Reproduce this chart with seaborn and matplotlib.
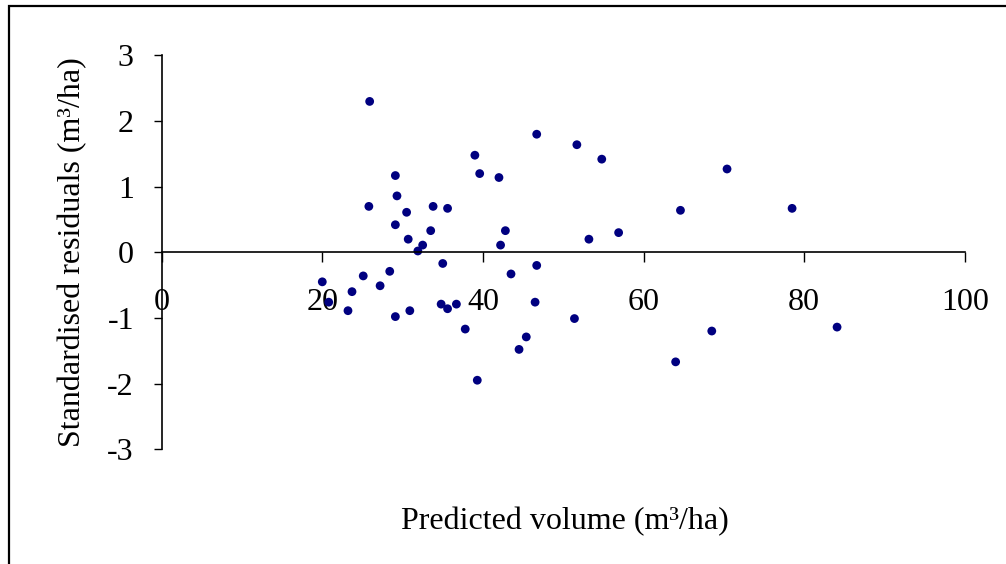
import matplotlib
matplotlib.use("Agg")
import matplotlib.pyplot as plt
import seaborn as sns
import pandas as pd
from matplotlib.patches import Rectangle

predicted_volume = [20.0, 20.8, 23.2, 23.7, 25.1, 25.9, 25.8, 27.2, 28.4, 29.1,
                    29.1, 29.3, 29.1, 30.5, 30.7, 30.9, 31.9, 32.5, 33.5, 33.8,
                    35.0, 34.8, 35.6, 35.6, 36.7, 37.8, 39.0, 39.3, 39.6, 42.0,
                    42.2, 42.8, 43.5, 44.5, 45.4, 46.5, 46.7, 46.7, 51.4, 51.7,
                    53.2, 54.8, 56.9, 64.0, 64.6, 68.5, 70.4, 78.5, 84.1]
std_residuals = [-0.45, -0.76, -0.89, -0.60, -0.36, 2.30, 0.70, -0.51, -0.29, 1.17,
                 0.42, 0.86, -0.98, 0.61, 0.20, -0.89, 0.02, 0.11, 0.33, 0.70,
                 -0.17, -0.79, -0.86, 0.67, -0.79, -1.17, 1.48, -1.95, 1.20, 1.14,
                 0.11, 0.33, -0.33, -1.48, -1.29, -0.76, -0.20, 1.80, -1.01, 1.64,
                 0.20, 1.42, 0.30, -1.67, 0.64, -1.20, 1.27, 0.67, -1.14]
x_ticks = [0, 20, 40, 60, 80, 100]
y_ticks = [-3, -2, -1, 0, 1, 2, 3]

df = pd.DataFrame({"x": predicted_volume, "y": std_residuals})

sns.set_style("white")
plt.rcParams["font.family"] = ["Liberation Serif", "DejaVu Serif"]
plt.rcParams["text.color"] = "black"
plt.rcParams["axes.labelcolor"] = "black"
plt.rcParams["xtick.color"] = "black"
plt.rcParams["ytick.color"] = "black"

fig = plt.figure(figsize=(10.06, 5.64), dpi=100)
ax = fig.add_axes([0.1607, 0.2037, 0.7983, 0.6979])

sns.scatterplot(data=df, x="x", y="y", ax=ax, color="#000080", s=40,
                edgecolor="none", linewidth=0, legend=False)

ax.set_xlim(0, 100)
ax.set_ylim(-3, 3)
ax.set_xticks(x_ticks)
ax.set_yticks(y_ticks)
ax.set_xticklabels([str(t) for t in x_ticks])
ax.set_yticklabels([str(t) for t in y_ticks])

ax.spines["left"].set_position(("data", 0))
ax.spines["bottom"].set_position(("data", 0))
ax.spines["right"].set_visible(False)
ax.spines["top"].set_visible(False)
for sp in ("left", "bottom"):
    ax.spines[sp].set_color("black")
    ax.spines[sp].set_linewidth(1.2)

ax.tick_params(axis="x", direction="out", length=7, width=1, colors="black",
               labelsize=23, pad=19, bottom=True)
ax.tick_params(axis="y", direction="out", length=6, width=1, colors="black",
               labelsize=23, pad=14, left=True)

ax.set_xlabel("Predicted volume (m³/ha)", fontsize=23, color="black")
ax.set_ylabel("Standardised residuals (m³/ha)", fontsize=23, color="black")
ax.xaxis.set_label_coords(0.502, -0.148)
ax.yaxis.set_label_coords(-0.093, 0.5)

fig.patches.append(Rectangle((9 / 1006, -0.2), 1.5, 1.2 - 6 / 564,
                             transform=fig.transFigure, fill=False,
                             edgecolor="black", linewidth=1.6))

fig.savefig("out.png", dpi=100, facecolor="white")
